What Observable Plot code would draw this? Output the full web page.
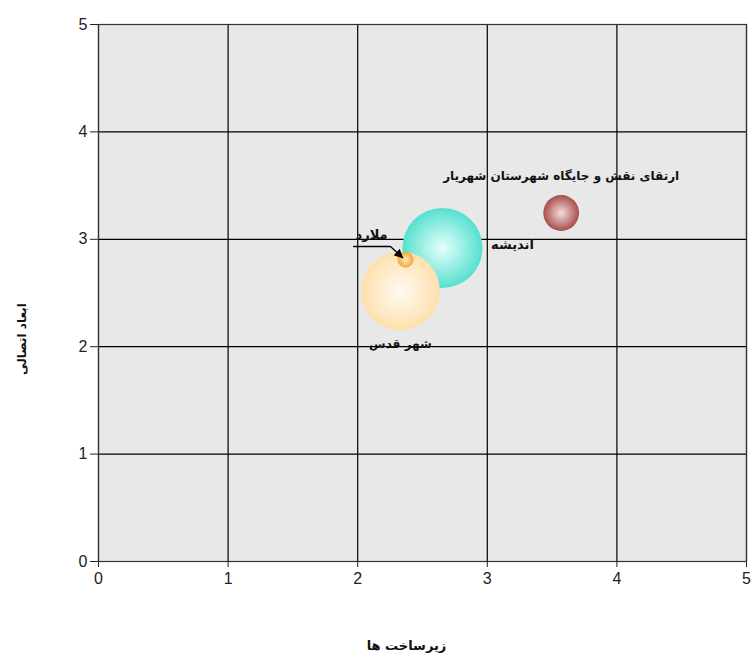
<!DOCTYPE html>
<html><head><meta charset="utf-8">
<script src="https://cdn.jsdelivr.net/npm/d3@7"></script>
<script src="https://cdn.jsdelivr.net/npm/@observablehq/plot@0.6"></script>
<style>body{margin:0;background:#fff}</style>
</head><body><div id="chart"></div>
<script>
// data
const names = ["ارتقای نقش و جایگاه شهرستان شهریار", "اندیشه", "شهر قدس", "ملارد"];
const xValues = [3.57, 2.654, 2.33, 2.369];
const yValues = [3.245, 2.92, 2.52, 2.81];
const sizes = [20, 100, 97, 4];
const xTicks = [0, 1, 2, 3, 4, 5];
const yTicks = [0, 1, 2, 3, 4, 5];
const xLabel = "زیرساخت ها";
const yLabel = "ابعاد اتصالی";
// annotation arrow for ملارد (data units)
const arrowX = [1.968, 2.253, 2.346];
const arrowY = [2.933, 2.933, 2.83];

const gradientIds = ["gRed", "gCyan", "gPeach", "gOrange"];
const centerColors = ["#f6dcdc", "#e6fffb", "#fffaf3", "#ffe9b8"];
const edgeColors = ["#a94c4c", "#55e0cf", "#ffe0ad", "#f2a83a"];

const bubbles = names.map((n, i) => ({name: n, x: xValues[i], y: yValues[i], size: sizes[i], fill: `url(#${gradientIds[i]})`}));
const arrowPts = arrowX.map((x, i) => ({x, y: arrowY[i]}));

function defsMark() {
  const defs = d3.create("svg:defs");
  gradientIds.forEach((id, i) => {
    const g = defs.append("radialGradient").attr("id", id).attr("cx", "50%").attr("cy", "50%").attr("r", "50%");
    g.append("stop").attr("offset", "0%").attr("stop-color", centerColors[i]);
    g.append("stop").attr("offset", "100%").attr("stop-color", edgeColors[i]);
  });
  defs.append("marker").attr("id", "arrowHead").attr("viewBox", "0 0 10 10")
    .attr("refX", 9).attr("refY", 5).attr("markerWidth", 9).attr("markerHeight", 9)
    .attr("markerUnits", "userSpaceOnUse").attr("orient", "auto")
    .append("path").attr("d", "M0,0L10,5L0,10Z").attr("fill", "#000");
  return defs.node();
}

const arabicFont = "DejaVu Sans, Noto Sans, sans-serif";
const byName = n => bubbles.filter(d => d.name === n);
const lbl = {fontSize: 12, fontWeight: "bold", fontFamily: arabicFont, fill: "#111"};

const chart = Plot.plot({
  width: 753, height: 655,
  marginLeft: 98, marginRight: 7, marginTop: 24, marginBottom: 94,
  style: {fontSize: "16px", fontFamily: "Liberation Sans, Arial, sans-serif", color: "#222", background: "#fff"},
  x: {domain: [0, 5], ticks: xTicks, tickFormat: d => d, label: null, tickSize: 6, tickPadding: 5},
  y: {domain: [0, 5], ticks: yTicks, tickFormat: d => d, label: null, tickSize: 8, tickPadding: 3},
  r: {domain: [0, 100], range: [0, 40]},
  color: {type: "identity"},
  marks: [
    defsMark,
    Plot.frame({fill: "#e8e8e8", stroke: "none"}),
    Plot.gridX(xTicks, {stroke: "#000", strokeOpacity: 1, strokeWidth: 1.2}),
    Plot.gridY(yTicks, {stroke: "#000", strokeOpacity: 1, strokeWidth: 1.2}),
    Plot.frame({stroke: "#333", strokeWidth: 1.2}),
    Plot.dot(bubbles, {x: "x", y: "y", r: "size", fill: "fill", stroke: "none"}),
    Plot.line(arrowPts, {x: "x", y: "y", stroke: "#000", strokeWidth: 1.3}),
    Plot.text(byName(names[0]), {x: "x", y: "y", text: "name", dy: -37, ...lbl}),
    Plot.text(byName(names[1]), {x: "x", y: "y", text: "name", dx: 70, dy: -3, ...lbl, fontSize: 13}),
    Plot.text(byName(names[2]), {x: "x", y: "y", text: "name", dy: 53, ...lbl}),
    Plot.text(byName(names[3]), {x: "x", y: "y", text: "name", dx: -34, dy: -25, ...lbl, fontSize: 13}),
    Plot.text([yLabel], {frameAnchor: "left", textAnchor: "middle", dx: -76, dy: 46, rotate: -90, text: d => d, ...lbl}),
    Plot.text([xLabel], {frameAnchor: "bottom", textAnchor: "middle", lineAnchor: "middle", dx: -16, dy: 84, text: d => d, ...lbl, fontSize: 13})
  ]
});
d3.select(chart).selectAll('g[aria-label="line"] path').attr("marker-end", "url(#arrowHead)");
document.getElementById("chart").append(chart);
</script>
</body></html>
